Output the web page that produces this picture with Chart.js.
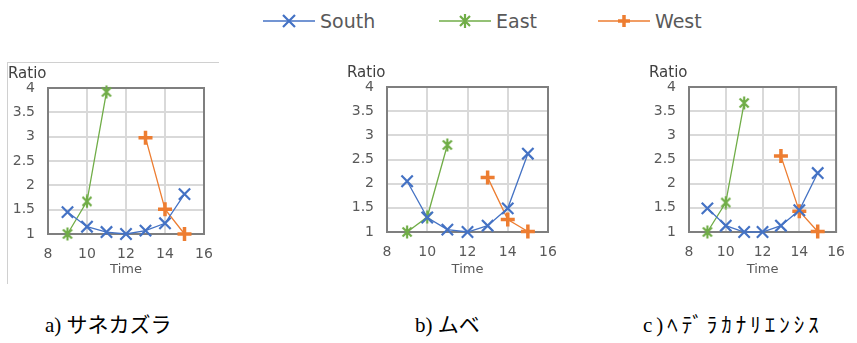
<!DOCTYPE html>
<html>
<head>
<meta charset="utf-8">
<script src="https://cdn.jsdelivr.net/npm/chart.js@4.4.1/dist/chart.umd.min.js"></script>
<style>
  body { margin: 0; background: #fff; width: 857px; height: 343px; position: relative; overflow: hidden; font-family: "DejaVu Sans", sans-serif; }
  .panel { position: absolute; top: 50px; height: 240px; }
  .frame { position: absolute; left: 7px; top: 62px; width: 211px; height: 221px; border-left: 1px solid #d0d0d0; border-top: 1px solid #d0d0d0; }
  #legend { position: absolute; top: 8px; left: 0; width: 857px; height: 26px; }
  .leg { position: absolute; top: 0; height: 26px; display: flex; align-items: center; font-size: 19px; color: #595959; }
  .leg svg { margin-right: 5px; }
  .cap { position: absolute; top: 308px; font-size: 21px; color: #000; font-family: "Liberation Serif", "Noto Sans CJK JP", serif; white-space: nowrap; }
</style>
</head>
<body>
<div class="frame"></div>
<div id="legend">
  <div class="leg" style="left:263px">
    <svg width="52" height="16"><line x1="0" y1="8" x2="52" y2="8" stroke="#4472C4" stroke-width="1.5"/><path d="M20 2 L32 14 M32 2 L20 14" stroke="#4472C4" stroke-width="2.2"/></svg>South
  </div>
  <div class="leg" style="left:439px">
    <svg width="52" height="16"><line x1="0" y1="8" x2="52" y2="8" stroke="#70AD47" stroke-width="1.5"/><path d="M21 3 L31 13 M31 3 L21 13 M26 1 L26 15" stroke="#70AD47" stroke-width="2.2"/></svg>East
  </div>
  <div class="leg" style="left:598px">
    <svg width="52" height="16"><line x1="0" y1="8" x2="52" y2="8" stroke="#ED7D31" stroke-width="1.5"/><path d="M26 2 L26 14 M20 8 L32 8" stroke="#ED7D31" stroke-width="3.5"/></svg>West
  </div>
</div>
<div class="panel" style="left:0px;width:230px"><canvas id="c1"></canvas></div>
<div class="panel" style="left:330px;width:240px"><canvas id="c2"></canvas></div>
<div class="panel" style="left:640px;width:217px"><canvas id="c3"></canvas></div>
<div class="cap" style="left:45px">a) サネカズラ</div>
<div class="cap" style="left:415px">b) ムベ</div>
<div class="cap" style="left:643px;letter-spacing:4px">c)ﾍﾃﾞﾗｶﾅﾘｴﾝｼｽ</div>

<script>
// ---- data ----
const southTimes = [9, 10, 11, 12, 13, 14, 15];
const eastTimes = [9, 10, 11];
const westTimes = [13, 14, 15];

// a) サネカズラ
const southA = [1.45, 1.15, 1.04, 1.0, 1.07, 1.22, 1.82];
const eastA = [1.0, 1.67, 3.92];
const westA = [2.98, 1.51, 1.0];
// b) ムベ
const southB = [2.05, 1.3, 1.05, 1.0, 1.13, 1.49, 2.62];
const eastB = [1.0, 1.31, 2.8];
const westB = [2.13, 1.26, 1.01];
// c) ヘデラカナリエンシス
const southC = [1.49, 1.13, 1.0, 1.0, 1.13, 1.45, 2.22];
const eastC = [1.0, 1.61, 3.67];
const westC = [2.57, 1.43, 1.01];

const xTicks = [8, 10, 12, 14, 16];
const yTicks = [1, 1.5, 2, 2.5, 3, 3.5, 4];

const cores = { south: '#4472C4', east: '#70AD47', west: '#ED7D31', grade: '#D9D9D9', borda: '#7F7F7F', texto: '#595959' };

// asterisco do Excel (X + traço vertical)
function asterisco(cor) {
  const c = document.createElement('canvas');
  c.width = 14; c.height = 14;
  const g = c.getContext('2d');
  g.strokeStyle = cor; g.lineWidth = 2.2;
  g.beginPath();
  g.moveTo(2.5, 2.5); g.lineTo(11.5, 11.5);
  g.moveTo(11.5, 2.5); g.lineTo(2.5, 11.5);
  g.moveTo(7, 0.5); g.lineTo(7, 13.5);
  g.stroke();
  return c;
}
const estrela = asterisco(cores.east);

const pontos = (xs, ys) => xs.map((x, i) => ({ x: x, y: ys[i] }));

// moldura da área de plotagem + rótulo "Ratio"
const molduraPlugin = {
  id: 'moldura',
  beforeDatasetsDraw(chart) {
    const { ctx, chartArea: a } = chart;
    ctx.save();
    ctx.strokeStyle = cores.borda;
    ctx.lineWidth = 2;
    ctx.strokeRect(a.left, a.top, a.right - a.left, a.bottom - a.top);
    ctx.restore();
  },
  afterDraw(chart) {
    const { ctx, chartArea: a } = chart;
    ctx.save();
    ctx.fillStyle = '#404040';
    ctx.font = '15px "DejaVu Sans"';
    ctx.textBaseline = 'alphabetic';
    ctx.fillText('Ratio', a.left - 40, a.top - 10);
    ctx.restore();
  }
};

function grafico(id, south, east, west, g) {
  new Chart(document.getElementById(id), {
    type: 'line',
    data: {
      datasets: [
        { label: 'South', data: pontos(southTimes, south), borderColor: cores.south, backgroundColor: cores.south,
          borderWidth: 1.3, pointStyle: 'crossRot', pointRadius: 8, pointBorderWidth: 2.2, clip: false },
        { label: 'East', data: pontos(eastTimes, east), borderColor: cores.east, backgroundColor: cores.east,
          borderWidth: 1.3, pointStyle: estrela, clip: false },
        { label: 'West', data: pontos(westTimes, west), borderColor: cores.west, backgroundColor: cores.west,
          borderWidth: 1.3, pointStyle: 'cross', pointRadius: 7, pointBorderWidth: 3.5, clip: false }
      ]
    },
    options: {
      responsive: true,
      maintainAspectRatio: false,
      animation: false,
      layout: { padding: { left: 0, right: g.right, top: g.top, bottom: 0 } },
      plugins: { legend: { display: false }, tooltip: { enabled: false } },
      scales: {
        x: {
          type: 'linear', min: 8, max: 16,
          afterBuildTicks: s => { s.ticks = xTicks.map(v => ({ value: v })); },
          afterFit: s => { s.height = g.xh; },
          grid: { color: cores.grade, lineWidth: 2, drawTicks: false },
          border: { display: false },
          ticks: { color: cores.texto, font: { family: 'DejaVu Sans', size: 14 }, padding: 12, callback: v => String(v) },
          title: { display: true, text: 'Time', color: cores.texto, font: { family: 'DejaVu Sans', size: 13 }, padding: { top: 0, bottom: 13 } }
        },
        y: {
          type: 'linear', min: 1, max: 4,
          afterBuildTicks: s => { s.ticks = yTicks.map(v => ({ value: v })); },
          afterFit: s => { s.width = g.yw; },
          grid: { color: cores.grade, lineWidth: 2, drawTicks: false },
          border: { display: false },
          ticks: { color: cores.texto, font: { family: 'DejaVu Sans', size: 14 }, padding: 13, callback: v => String(v) }
        }
      }
    },
    plugins: [molduraPlugin]
  });
}

grafico('c1', southA, eastA, westA, { yw: 48, right: 26, top: 38, xh: 56 });
grafico('c2', southB, eastB, westB, { yw: 57, right: 22, top: 37, xh: 58 });
grafico('c3', southC, eastC, westC, { yw: 49, right: 8, top: 37, xh: 58 });
</script>
</body>
</html>
